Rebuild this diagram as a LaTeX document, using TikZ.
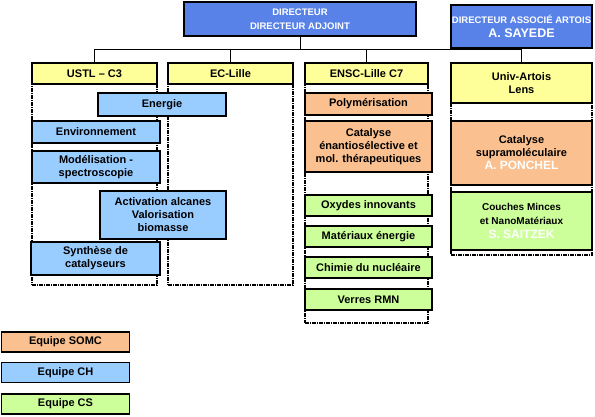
\documentclass[tikz,border=0pt]{standalone}
\usepackage{fontspec}
\setmainfont{Liberation Sans}
\usepackage{xcolor}
\usepackage{tikz}
\usetikzlibrary{positioning}
\definecolor{orgRoyal}{RGB}{88,130,232}
\definecolor{orgSky}{RGB}{153,204,255}
\definecolor{orgPeach}{RGB}{250,192,144}
\definecolor{orgLime}{RGB}{204,255,153}
\definecolor{orgLemon}{RGB}{255,255,153}

\begin{document}
\begin{tikzpicture}[
    x=1pt, y=-1pt,
    every node/.style={font=\bfseries\fontsize{11}{13}\selectfont, align=center, inner sep=0pt},
    lead/.style={draw=black, line width=1.3pt, fill=orgRoyal, text=white, font=\bfseries\fontsize{9.5}{14}\selectfont},
    site/.style={draw=black, line width=1.3pt, fill=orgLemon},
    frame/.style={draw=black, line width=1.2pt, dash pattern=on 4pt off 1pt on 1pt off 1pt},
    teamCH/.style={draw=black, line width=1.3pt, fill=orgSky},
    teamSOMC/.style={draw=black, line width=1.3pt, fill=orgPeach},
    teamCS/.style={draw=black, line width=1.3pt, fill=orgLime},
    edge/.style={draw=black, line width=1pt}
]
\useasboundingbox (0,0) rectangle (595,416);

% dashed frames behind the teams
\foreach \n/\x/\y/\w/\h in {fu/94.5/184.5/125/201, fe/230.5/184.5/125/201, fn/366.5/203.5/123/239, fa/521.5/179/141/152} {
  \node[frame, minimum width=\w pt, minimum height=\h pt] (\n) at (\x,\y) {};
}

% direction
\node[lead, minimum width=232pt, minimum height=34pt] (dir) at (300,19) {DIRECTEUR\\DIRECTEUR ADJOINT};
\node[lead, minimum width=141pt, minimum height=43pt] (assoc) at (521.5,26.5) {DIRECTEUR ASSOCIÉ ARTOIS\\{\fontsize{12.5}{15}\selectfont A. SAYEDE}};

% sites
\foreach \n/\x/\w/\t in {ustl/94.5/125/USTL -- C3, ec/230.5/125/EC-Lille, ensc/366.5/123/ENSC-Lille C7} {
  \node[site, minimum width=\w pt, minimum height=21pt] (\n) at (\x,73.5) {\t};
}
\node[site, minimum width=141pt, minimum height=40pt] (univ) at (521.5,83) {Univ-Artois\\Lens};

\coordinate (bus) at (0,49);
\draw[edge] (dir) -- (dir |- bus);
\draw[edge] (ustl) -- (ustl |- bus) -- (univ |- bus) -- (univ);
\foreach \n in {ec,ensc} \draw[edge] (\n) -- (\n |- bus);

% USTL / EC-Lille
\node[teamCH, minimum width=128pt, minimum height=23pt] (nrj) at (162,104.5) {Energie};
\node[teamCH, minimum width=128pt, minimum height=22pt] (env) at (96,132) {Environnement};
\node[teamCH, minimum width=128pt, minimum height=32pt] (mod) at (96,167) {Modélisation -\\spectroscopie};
\node[teamCH, minimum width=126pt, minimum height=48pt] (alc) at (163,215) {Activation alcanes\\Valorisation\\biomasse};
\node[teamCH, minimum width=129pt, minimum height=33pt] (syn) at (95.5,258.5) {Synthèse de\\catalyseurs};

% ENSC-Lille
\node[teamSOMC, minimum width=127pt, minimum height=22pt] (poly) at (368.5,104) {Polymérisation};
\node[teamSOMC, minimum width=127pt, minimum height=51pt] (enan) at (368.5,146.5) {Catalyse\\énantiosélective et\\mol. thérapeutiques};
\foreach \n/\y/\t in {oxy/205.5/Oxydes innovants, mat/236.5/Matériaux énergie, nuc/267.5/Chimie du nucléaire, rmn/299.5/Verres RMN} {
  \node[teamCS, minimum width=127pt, minimum height=21pt] (\n) at (368.5,\y) {\t};
}

% Univ-Artois
\node[teamSOMC, minimum width=141pt, minimum height=64pt] (supra) at (521.5,153) {Catalyse\\supramoléculaire\\{\color{white}\fontsize{12}{16}\selectfont A. PONCHEL}};
\node[teamCS, minimum width=141pt, minimum height=58pt, font=\bfseries\fontsize{10}{14}\selectfont] (couche) at (521.5,221) {Couches Minces\\et NanoMatériaux\\{\color{white}\fontsize{12}{16}\selectfont S. SAITZEK}};

% legend
\foreach \n/\s/\y/\t in {lsomc/teamSOMC/342/Equipe SOMC, lch/teamCH/372.5/Equipe CH, lcs/teamCS/404/Equipe CS} {
  \node[\s, minimum width=128pt, minimum height=20pt] (\n) at (65.5,\y) {\t};
}
\end{tikzpicture}
\end{document}
